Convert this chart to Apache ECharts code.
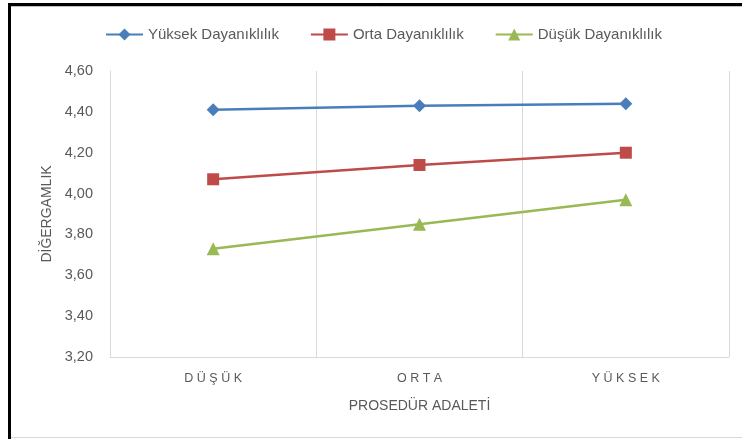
<!DOCTYPE html>
<html>
<head>
<meta charset="utf-8">
<script src="https://cdn.jsdelivr.net/npm/echarts@6/dist/echarts.min.js"></script>
<style>
  html, body { margin: 0; padding: 0; background: #fff; }
  #main { width: 742px; height: 439px; }
</style>
</head>
<body>
<div id="main"></div>
<script>
  // categories (x axis)
  const categories = ["DÜŞÜK", "ORTA", "YÜKSEK"];

  // series values
  const yuksekDayaniklilik = [4.41, 4.43, 4.44];
  const ortaDayaniklilik = [4.07, 4.14, 4.20];
  const dusukDayaniklilik = [3.73, 3.85, 3.97];

  const seriesNames = ["Yüksek Dayanıklılık", "Orta Dayanıklılık", "Düşük Dayanıklılık"];

  let chart = echarts.init(document.getElementById("main"), null, { renderer: "canvas" });

  const font = "Liberation Sans";
  const gray = "#595959";

  function lineSeries(name, data, color, symbol, size) {
    return {
      name: name,
      type: "line",
      data: data,
      symbol: symbol,
      symbolSize: size,
      showSymbol: true,
      lineStyle: { color: color, width: 2.5 },
      itemStyle: { color: color },
      animation: false,
    };
  }

  chart.setOption({
    animation: false,
    textStyle: { fontFamily: font },
    legend: {
      top: 22,
      left: 100,
      itemWidth: 37,
      itemHeight: 15,
      itemGap: 31,
      textStyle: { fontFamily: font, fontSize: 15, color: gray },
      data: seriesNames,
    },
    grid: { left: 110, right: 13, top: 71, bottom: 82, containLabel: false },
    xAxis: {
      type: "category",
      data: categories,
      boundaryGap: true,
      name: "PROSEDÜR ADALETİ",
      nameLocation: "middle",
      nameGap: 42,
      nameTextStyle: { fontFamily: font, fontSize: 14, color: gray },
      axisLine: { show: true, lineStyle: { color: "#d9d9d9", width: 1 } },
      axisTick: { show: false },
      splitLine: { show: true, lineStyle: { color: "#d9d9d9", width: 1 } },
      axisLabel: {
        margin: 15,
        fontFamily: font,
        fontSize: 12.5,
        color: gray,
        formatter: (v) => v.split("").join(" "),
      },
    },
    yAxis: {
      type: "value",
      min: 3.2,
      max: 4.6,
      interval: 0.2,
      name: "DİĞERGAMLIK",
      nameLocation: "middle",
      nameGap: 56,
      nameTextStyle: { fontFamily: font, fontSize: 14, color: gray },
      axisLine: { show: true, lineStyle: { color: "#d9d9d9" } },
      axisTick: { show: false },
      splitLine: { show: false },
      axisLabel: {
        margin: 17,
        fontFamily: font,
        fontSize: 14.5,
        color: gray,
        formatter: (v) => v.toFixed(2).replace(".", ","),
      },
    },
    series: [
      lineSeries(seriesNames[0], yuksekDayaniklilik, "#4A7EBB", "diamond", 13),
      lineSeries(seriesNames[1], ortaDayaniklilik, "#BE4B48", "rect", 12),
      lineSeries(seriesNames[2], dusukDayaniklilik, "#98B954", "triangle", 13),
    ],
    graphic: [
      // outer frame (black left/top, gray bottom)
      { type: "line", shape: { x1: 9.5, y1: 3, x2: 9.5, y2: 439 }, style: { stroke: "#000", lineWidth: 3 } },
      { type: "line", shape: { x1: 8, y1: 4.5, x2: 742, y2: 4.5 }, style: { stroke: "#000", lineWidth: 3 } },
      { type: "line", shape: { x1: 11, y1: 6.5, x2: 742, y2: 6.5 }, style: { stroke: "#bfbfbf", lineWidth: 1 } },
      { type: "line", shape: { x1: 11, y1: 437.5, x2: 742, y2: 437.5 }, style: { stroke: "#d9d9d9", lineWidth: 1 } },
    ],
  });
</script>
</body>
</html>
